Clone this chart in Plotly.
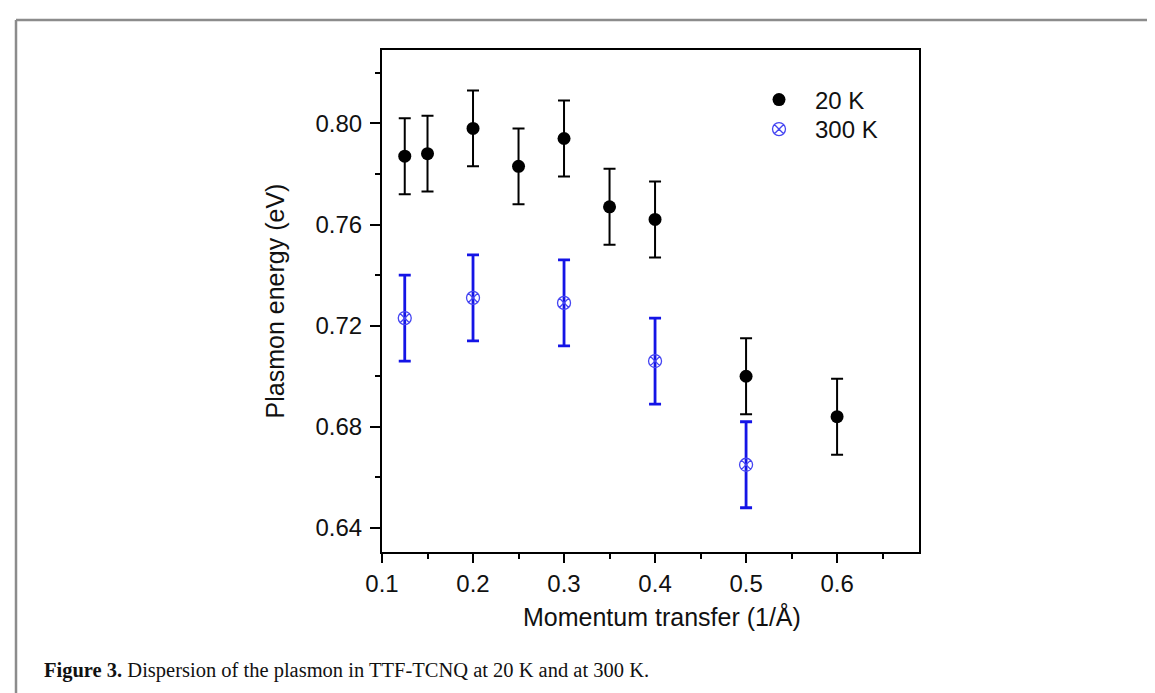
import plotly.graph_objects as go

# ---- data ----
q_20K = [0.125, 0.15, 0.2, 0.25, 0.3, 0.35, 0.4, 0.5, 0.6]
E_20K = [0.787, 0.788, 0.798, 0.783, 0.794, 0.767, 0.762, 0.700, 0.684]
err_20K = [0.015, 0.015, 0.015, 0.015, 0.015, 0.015, 0.015, 0.015, 0.015]

q_300K = [0.125, 0.2, 0.3, 0.4, 0.5]
E_300K = [0.723, 0.731, 0.729, 0.706, 0.665]
err_300K = [0.017, 0.017, 0.017, 0.017, 0.017]

x_ticks = [0.1, 0.2, 0.3, 0.4, 0.5, 0.6]
y_ticks = [0.64, 0.68, 0.72, 0.76, 0.80]

W, H = 1155, 693
L, R, T, B = 374, 911, 42, 544  # plot-area pixel edges

fig = go.Figure()
fig.add_trace(go.Scatter(
    x=q_20K, y=E_20K, mode="markers", name="20 K", legend="legend",
    marker=dict(symbol="circle", size=13, color="black"),
    error_y=dict(type="data", array=err_20K, visible=True,
                 color="black", thickness=2, width=6),
))
fig.add_trace(go.Scatter(
    x=q_300K, y=E_300K, mode="markers", name="300 K", legend="legend2",
    marker=dict(symbol="circle-x-open", size=13, color="#4545f2",
                line=dict(width=1.3, color="#4545f2")),
    error_y=dict(type="data", array=err_300K, visible=True,
                 color="#1414e6", thickness=2.8, width=6),
))

sans = "Liberation Sans, Arial, sans-serif"
axis_font = dict(family=sans, size=24, color="#111")

fig.update_xaxes(
    range=[0.1, 0.69], tickvals=x_ticks, ticktext=[f"{v:.1f}" for v in x_ticks],
    showline=True, linecolor="black", linewidth=2, mirror=True,
    ticks="outside", ticklen=9, tickwidth=2, tickcolor="black",
    minor=dict(ticks="outside", ticklen=5, tickwidth=2, tickcolor="black", dtick=0.05, tick0=0.1),
    showgrid=False, zeroline=False, tickfont=axis_font,
)
fig.update_yaxes(
    range=[0.6305, 0.829], tickvals=y_ticks, ticktext=[f"{v:.2f}" for v in y_ticks],
    showline=True, linecolor="black", linewidth=2, mirror=True,
    ticks="outside", ticklen=10, tickwidth=2, tickcolor="black",
    minor=dict(ticks="outside", ticklen=5, tickwidth=2, tickcolor="black", dtick=0.02, tick0=0.64),
    showgrid=False, zeroline=False, tickfont=axis_font, ticklabelstandoff=3,
    title=dict(text="Plasmon energy (eV)", font=dict(family=sans, size=25, color="#111"), standoff=24),
)

pw, ph = R - L, B - T
def px(xp):
    return (xp - L) / pw
def py(yp):
    return (B - yp) / ph

# x-axis title
fig.add_annotation(
    xref="paper", yref="paper", x=px(654), y=py(608), xanchor="center", yanchor="middle",
    showarrow=False, text="Momentum transfer (1/Å)",
    font=dict(family=sans, size=25, color="#111"),
)

# outer grey figure frame (top and left edges)
fig.add_shape(type="line", xref="paper", yref="paper", x0=px(8), x1=px(1160), y0=py(12), y1=py(12),
              line=dict(color="#8c8c8c", width=2.5))
fig.add_shape(type="line", xref="paper", yref="paper", x0=px(8), x1=px(8), y0=py(12), y1=py(700),
              line=dict(color="#8c8c8c", width=2.5))

fig.add_annotation(
    xref="paper", yref="paper", x=px(34), y=py(662), xanchor="left", yanchor="middle",
    showarrow=False,
    text="<b>Figure 3.</b> Dispersion of the plasmon in TTF-TCNQ at 20 K and at 300 K.",
    font=dict(family="Liberation Serif, Times New Roman, serif", size=20.5, color="#111"),
)

leg_common = dict(xanchor="left", yanchor="middle", bgcolor="rgba(0,0,0,0)", borderwidth=0,
                  font=dict(family=sans, size=24, color="#111"), itemwidth=62)
fig.update_layout(
    width=W, height=H, autosize=False,
    margin=dict(l=L, r=W - R, t=T, b=H - B, pad=0),
    paper_bgcolor="white", plot_bgcolor="white",
    showlegend=True,
    legend=dict(x=px(735), y=py(92), **leg_common),
    legend2=dict(x=px(735), y=py(121.5), **leg_common),
)

fig.write_html("out.html")
